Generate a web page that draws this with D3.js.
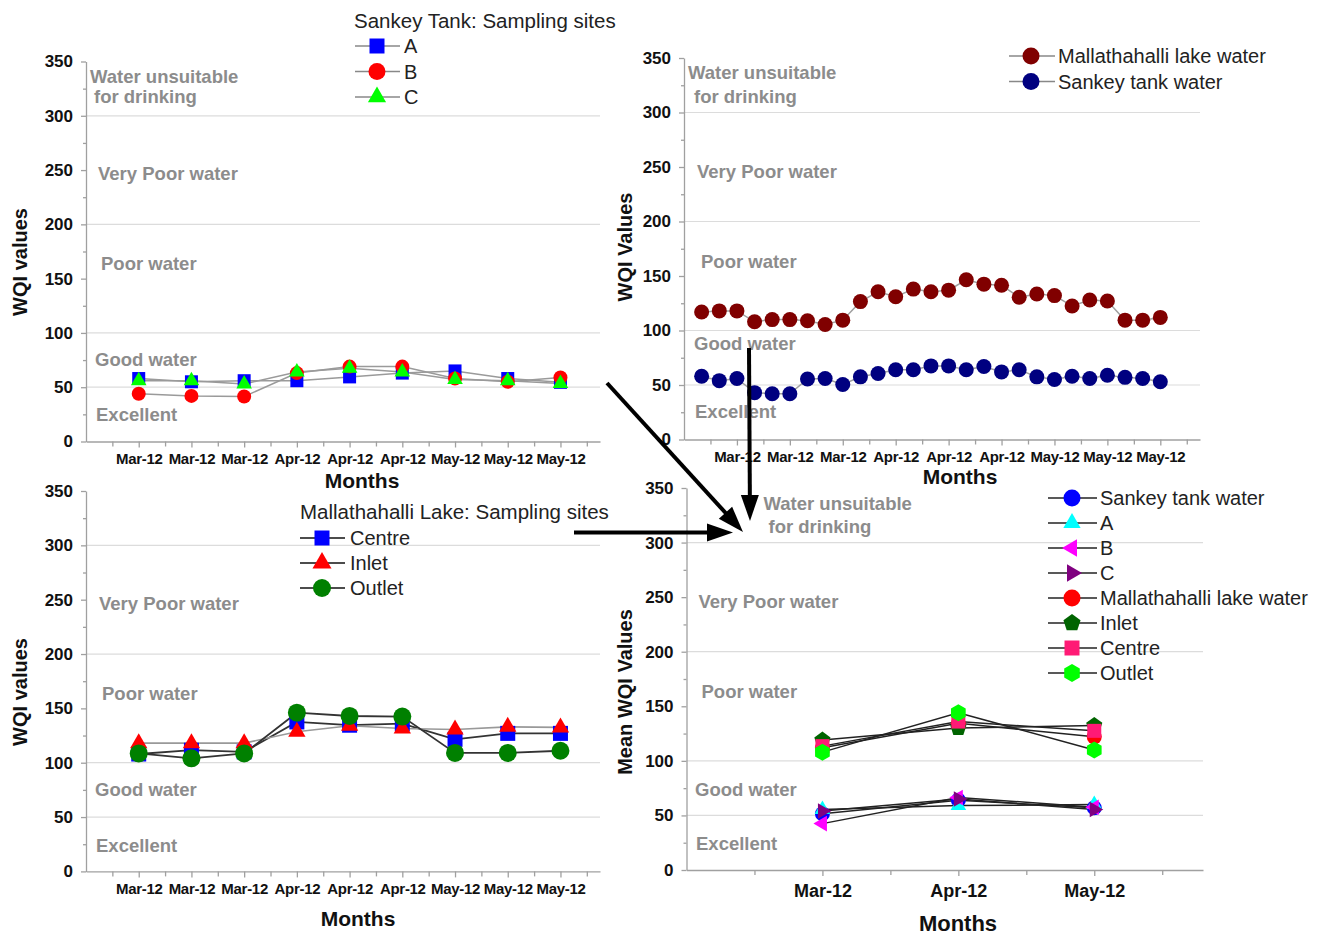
<!DOCTYPE html>
<html><head><meta charset="utf-8">
<script src="https://cdn.jsdelivr.net/npm/d3@7"></script>
<style>
body{margin:0;background:#fff;}
text{font-family:Arial,"Liberation Sans",Helvetica,sans-serif;}
</style>
</head><body>
<svg id="c" width="1321" height="938"></svg>
<script>
// ---------------- DATA ----------------
const siteMonths = ["Mar-12","Mar-12","Mar-12","Apr-12","Apr-12","Apr-12","May-12","May-12","May-12"];
const meanMonths = ["Mar-12","Apr-12","May-12"];
const yTicks = [0,50,100,150,200,250,300,350];
const gridValues = [50,100,200,300];
const zoneNames = ["Water unsuitable","for drinking","Very Poor water","Poor water","Good water","Excellent"];

// Panel 1: Sankey Tank sampling sites
const sankeyA = [58, 55, 56, 56, 59.5, 63, 65, 58, 54.5];
const sankeyB = [44, 42, 41.5, 63, 69, 69, 58, 55, 59];
const sankeyC = [56, 56, 53, 64, 67.5, 64, 57, 56, 53.5];

// Panel 2: Mallathahalli lake vs Sankey tank (27 samplings)
const mallWater = [117, 118, 118, 108, 110, 110, 109, 105.5, 109.5, 126.5, 135.5, 131, 138, 135.5, 137, 146.5, 142.5, 141.5, 130.5, 133.5, 132, 122.5, 128, 127, 109.5, 109.5, 112];
const sankeyWater = [58, 54, 56, 43, 42, 42, 55.5, 56, 50.5, 57.5, 60.5, 64, 64, 67.5, 67.5, 64, 67, 62, 64, 57.5, 55, 58, 56, 59, 57, 56, 53];

// Panel 3: Mallathahalli lake sampling sites
const mallCentre = [108, 111.5, 110, 137.5, 134.5, 136, 121.5, 127, 127];
const mallInlet = [118, 118, 118, 128.5, 134, 131.5, 130.5, 133, 132.5];
const mallOutlet = [108.5, 104, 108.5, 146, 143, 142.5, 109, 109, 111];

// Panel 4: monthly means
const meanSankey = [51.5, 64, 57];
const meanA = [55.5, 59, 60];
const meanB = [42.5, 66.5, 57.5];
const meanC = [54, 65, 55.5];
const meanMall = [112, 134.5, 122];
const meanInlet = [119, 130, 132.5];
const meanCentre = [113.5, 136, 127.5];
const meanOutlet = [108, 144, 110];

// ---------------- HELPERS ----------------
const svg = d3.select("#c");
svg.append("rect").attr("width",1321).attr("height",938).attr("fill","#fff");

function polyPath(n, r, rotDeg){
  const pts = d3.range(n).map(i=>{
    const a = (rotDeg + i*360/n)*Math.PI/180;
    return [r*Math.cos(a), r*Math.sin(a)];
  });
  return "M" + pts.map(p=>p[0].toFixed(2)+","+p[1].toFixed(2)).join("L") + "Z";
}
function markerPath(shape, r){
  switch(shape){
    case "circle": return d3.symbol().type(d3.symbolCircle).size(Math.PI*r*r)();
    case "square": return `M${-r},${-r}H${r}V${r}H${-r}Z`;
    case "triUp": return polyPath(3, r, -90);
    case "triLeft": return polyPath(3, r, 180);
    case "triRight": return polyPath(3, r, 0);
    case "pentagon": return polyPath(5, r, -90);
    case "hexagon": return polyPath(6, r, -90);
  }
}

function drawPanel(p){
  const g = svg.append("g");
  const x = d3.scaleLinear().domain(p.xDomain).range(p.xRange);
  const y = d3.scaleLinear().domain([0,350]).range(p.yRange);

  // grid lines
  g.selectAll("line.grid").data(gridValues).join("line").attr("class","grid")
    .attr("x1", x(p.xDomain[0])).attr("x2", x(p.xDomain[1]))
    .attr("y1", d=>y(d)).attr("y2", d=>y(d))
    .attr("stroke","#dcdcdc").attr("stroke-width",1.2);

  // y axis
  const yAx = g.append("g").attr("transform",`translate(${x(p.xDomain[0])},0)`)
    .call(d3.axisLeft(y).tickValues(yTicks).tickSize(5).tickSizeOuter(0).tickPadding(8));
  const yMin = g.append("g").attr("transform",`translate(${x(p.xDomain[0])},0)`)
    .call(d3.axisLeft(y).tickValues(d3.range(25,350,50)).tickSize(3).tickSizeOuter(0).tickFormat(""));
  yMin.select(".domain").remove();
  // x axis
  const xAx = g.append("g").attr("transform",`translate(0,${y(0)})`)
    .call(d3.axisBottom(x).tickValues(p.xMajor).tickFormat((d,i)=>p.xLabels[i])
      .tickSize(6).tickSizeOuter(0).tickPadding(p.xPad));
  const xMin = g.append("g").attr("transform",`translate(0,${y(0)})`)
    .call(d3.axisBottom(x).tickValues(p.xMinor).tickSize(5).tickSizeOuter(0).tickFormat(""));
  xMin.select(".domain").remove();
  [yAx,yMin,xAx,xMin].forEach(a=>{
    a.selectAll("path,line").attr("stroke","#a0a0a0").attr("stroke-width",1.3);
  });
  yAx.selectAll("text").attr("font-size",17).attr("font-weight","bold").attr("fill","#111");
  xAx.selectAll("text").attr("font-size",p.xFont).attr("font-weight","bold").attr("fill","#111")
     .attr("letter-spacing", p.xLetter||0);

  // zone labels
  p.zones.forEach((z,i)=>{
    if(!z) return;
    g.append("text").attr("x", x(p.xDomain[0]) + z[0]).attr("y", y(z[1]))
      .attr("font-size",18.5).attr("font-weight","bold").attr("fill","#8c8c8c").text(zoneNames[i]);
  });

  // axis titles
  g.append("text").attr("transform",`translate(${p.yTitle[0]},${p.yTitle[1]}) rotate(-90)`)
    .attr("text-anchor","middle").attr("dy","0.35em")
    .attr("font-size",20).attr("font-weight","bold").attr("fill","#111").text(p.yTitle[2]);
  g.append("text").attr("x",p.xTitle[0]).attr("y",p.xTitle[1]).attr("text-anchor","middle")
    .attr("font-size",p.xTitle[2]).attr("font-weight","bold").attr("fill","#111").text("Months");

  // series
  p.series.forEach(s=>{
    const pts = s.values.map((v,i)=>[x(p.positions[i]), y(v)]);
    g.append("path").attr("d", d3.line()(pts)).attr("fill","none")
      .attr("stroke", s.line).attr("stroke-width", s.lw||1.5);
  });
  p.series.forEach(s=>{
    g.selectAll(null).data(s.values).join("path")
      .attr("transform",(v,i)=>`translate(${x(p.positions[i])},${y(v)})`)
      .attr("d", markerPath(s.shape, s.r)).attr("fill", s.color);
  });

  // legend
  const L = p.legend;
  if(L.title){
    g.append("text").attr("x",L.titleX).attr("y",L.titleY).attr("font-size",20.5)
      .attr("fill","#222").text(L.title);
  }
  L.items.forEach((it,i)=>{
    const s = p.series[it.idx];
    const cy = L.y0 + i*L.dy;
    g.append("line").attr("x1",L.x1).attr("x2",L.x2).attr("y1",cy).attr("y2",cy)
      .attr("stroke", L.lineColor).attr("stroke-width",1.6);
    g.append("path").attr("transform",`translate(${L.mx},${cy})`)
      .attr("d", markerPath(s.shape, s.lr || s.r+1)).attr("fill", s.color);
    g.append("text").attr("x",L.tx).attr("y",cy).attr("dy","0.35em").attr("font-size",20)
      .attr("fill","#222").text(it.name);
  });
}

const pos9 = d3.range(1,10);
const halfTicks = d3.range(0.5,9.6,1);

// Panel 1
drawPanel({
  xDomain:[0,9.75], xRange:[86,600], yRange:[441.5,61.5],
  xMajor:pos9, xMinor:halfTicks, xLabels:siteMonths, xFont:15, xPad:6, xLetter:-0.3,
  positions:pos9,
  zones:[[4,330.5],[8,311.5],[12,241],[15,158],[9,70],[10,19]],
  yTitle:[20,262,"WQI values"], xTitle:[362,488,21],
  series:[
    {values:sankeyA, shape:"square", r:6.5, lr:7.5, color:"#0000ff", line:"#9a9a9a"},
    {values:sankeyB, shape:"circle", r:7, lr:8.5, color:"#ff0000", line:"#9a9a9a"},
    {values:sankeyC, shape:"triUp", r:9, lr:10.5, color:"#00ff00", line:"#9a9a9a"}
  ],
  legend:{title:"Sankey Tank: Sampling sites", titleX:354, titleY:28,
    x1:355, x2:400, mx:377, tx:404, y0:46, dy:25.5, lineColor:"#888",
    items:[{idx:0,name:"A"},{idx:1,name:"B"},{idx:2,name:"C"}]}
});

// Panel 2
drawPanel({
  xDomain:[0,9.75], xRange:[684,1200], yRange:[439.5,58],
  xMajor:pos9, xMinor:halfTicks, xLabels:siteMonths, xFont:15, xPad:6, xLetter:-0.3,
  positions:d3.range(27).map(i=>(i+1)/3),
  zones:[[4,330.5],[10,309],[13,240],[17,157.6],[10,82],[11,19.5]],
  yTitle:[625,247,"WQI Values"], xTitle:[960,484,21],
  series:[
    {values:mallWater, shape:"circle", r:7.5, lr:8.5, color:"#800000", line:"#a0a0a0"},
    {values:sankeyWater, shape:"circle", r:7.5, lr:8.5, color:"#000080", line:"#a0a0a0"}
  ],
  legend:{x1:1009, x2:1055, mx:1031, tx:1058, y0:56, dy:25.5, lineColor:"#888",
    items:[{idx:0,name:"Mallathahalli lake water"},{idx:1,name:"Sankey tank water"}]}
});

// Panel 3
drawPanel({
  xDomain:[0,9.75], xRange:[86,600], yRange:[871.4,491],
  xMajor:pos9, xMinor:halfTicks, xLabels:siteMonths, xFont:15, xPad:6, xLetter:-0.3,
  positions:pos9,
  zones:[null,null,[13,240.5],[16,158],[9,69.5],[10,18]],
  yTitle:[20,692,"WQI values"], xTitle:[358,926,21],
  series:[
    {values:mallCentre, shape:"square", r:7.5, lr:7.5, color:"#0000ff", line:"#333", lw:1.8},
    {values:mallInlet, shape:"triUp", r:10, lr:11, color:"#ff0000", line:"#999", lw:1.6},
    {values:mallOutlet, shape:"circle", r:9, lr:9, color:"#008000", line:"#333", lw:1.8}
  ],
  legend:{title:"Mallathahalli Lake: Sampling sites", titleX:300, titleY:519,
    x1:300, x2:345, mx:322, tx:350, y0:538, dy:25, lineColor:"#111",
    items:[{idx:0,name:"Centre"},{idx:1,name:"Inlet"},{idx:2,name:"Outlet"}]}
});

// Panel 4
drawPanel({
  xDomain:[0,3.8], xRange:[686.5,1203], yRange:[870,488],
  xMajor:[1,2,3], xMinor:[0.5,1.5,2.5,3.5], xLabels:meanMonths, xFont:18, xPad:8,
  positions:[1,2,3],
  zones:[[77,330],[82,308.5],[12,240],[15,157.5],[8.5,68],[9.5,18.3]],
  yTitle:[625,692,"Mean WQI Values"], xTitle:[958,931,22],
  series:[
    {values:meanSankey, shape:"circle", r:7.5, lr:8.5, color:"#0000ff", line:"#222"},
    {values:meanA, shape:"triUp", r:9, lr:10, color:"#00ffff", line:"#222"},
    {values:meanB, shape:"triLeft", r:9, lr:10, color:"#ff00ff", line:"#222"},
    {values:meanC, shape:"triRight", r:9, lr:10, color:"#800080", line:"#222"},
    {values:meanMall, shape:"circle", r:7.5, lr:8.5, color:"#ff0000", line:"#222"},
    {values:meanInlet, shape:"pentagon", r:8.5, lr:9, color:"#006400", line:"#222"},
    {values:meanCentre, shape:"square", r:7, lr:7.5, color:"#ff1a75", line:"#222"},
    {values:meanOutlet, shape:"hexagon", r:8.5, lr:9, color:"#00ff00", line:"#222"}
  ],
  legend:{x1:1048, x2:1097, mx:1072, tx:1100, y0:498, dy:25,  lineColor:"#222",
    items:[{idx:0,name:"Sankey tank water"},{idx:1,name:"A"},{idx:2,name:"B"},{idx:3,name:"C"},
           {idx:4,name:"Mallathahalli lake water"},{idx:5,name:"Inlet"},{idx:6,name:"Centre"},{idx:7,name:"Outlet"}]}
});

// ---------------- ARROWS ----------------
function arrow(x1,y1,x2,y2){
  const dx=x2-x1, dy=y2-y1, len=Math.hypot(dx,dy), ux=dx/len, uy=dy/len;
  const hl=26, hw=9;
  const bx=x2-ux*hl, by=y2-uy*hl;
  svg.append("line").attr("x1",x1).attr("y1",y1).attr("x2",bx+ux*2).attr("y2",by+uy*2)
    .attr("stroke","#000").attr("stroke-width",4);
  svg.append("path").attr("d",`M${x2},${y2}L${bx-uy*hw},${by+ux*hw}L${bx+uy*hw},${by-ux*hw}Z`)
    .attr("fill","#000");
}
arrow(607,383,743,532);
arrow(749,348,750,521);
arrow(574,532.5,733,532.5);
</script>
</body></html>
